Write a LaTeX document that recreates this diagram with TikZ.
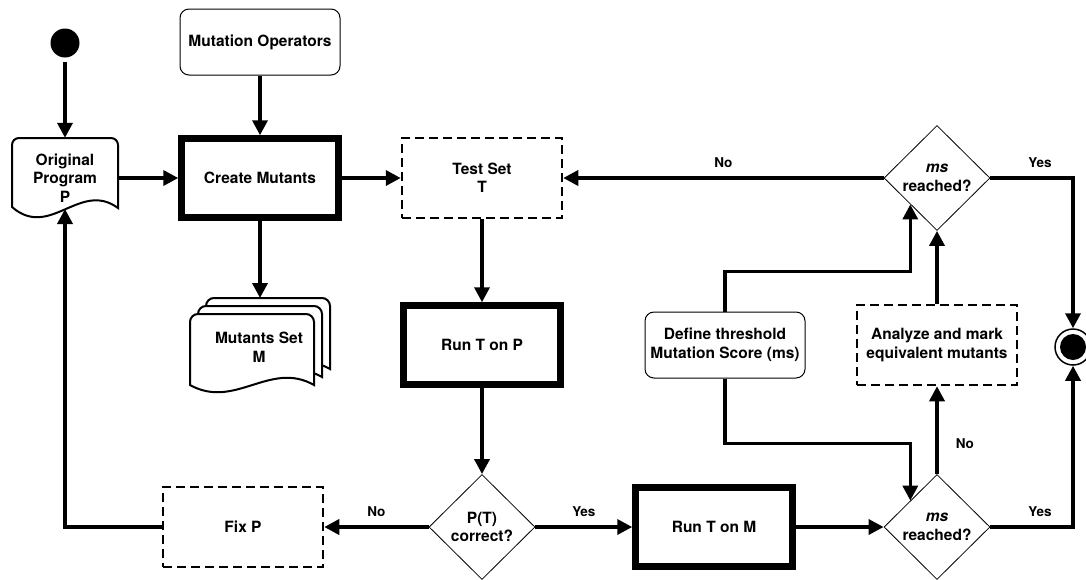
\documentclass[tikz,border=0pt]{standalone}
\usepackage{fontspec}
\setmainfont{TeX Gyre Heros}
\usetikzlibrary{arrows.meta,shapes.geometric}

\begin{document}
\begin{tikzpicture}[x=1pt, y=1pt, yscale=-1, inner sep=0pt,
    txt/.style={font=\bfseries\fontsize{15.5}{18.5}\selectfont, align=center},
    lbl/.style={font=\bfseries\fontsize{13.5}{16}\selectfont},
    thickbox/.style={txt, draw, line width=6.5pt, minimum width=157pt, minimum height=79pt},
    dashbox/.style={txt, draw, line width=2.5pt, dash pattern=on 9pt off 5pt, minimum width=160pt, minimum height=80pt},
    softbox/.style={txt, draw, line width=1pt, rounded corners=9pt, minimum width=160pt, minimum height=66pt},
    choice/.style={txt, draw, diamond, line width=0.8pt, minimum width=106pt, minimum height=105pt},
    flow/.style={line width=3.5pt, -{Triangle[length=15pt,width=15pt]}},
    docline/.style={line width=2pt, fill=white}]
  \useasboundingbox (0,0) rectangle (1086,579);

  % original program (document shape)
  \draw[docline] (12,207) [rounded corners=7pt] -- (12,138) -- (118,138) [sharp corners] -- (118,208)
    .. controls (80,180) and (50,240) .. (12,207) -- cycle;
  \node[txt, minimum width=106pt, minimum height=80pt] (orig) at (65,178) {Original\\Program\\P};
  \coordinate (origbot) at (65,209);

  % mutants set (stacked documents)
  \foreach \d in {16,8,0}
    \draw[docline, shift={(\d,-\d)}] (190,385) [rounded corners=8pt] -- (190,314) -- (314,314) [sharp corners] -- (314,385)
      .. controls (270,360) and (235,410) .. (190,385) -- cycle;
  \node[txt] (mset) at (259,347) {Mutants Set\\M};
  \coordinate (msettop) at (260,298);

  \node[circle, fill, minimum size=29pt] (start) at (65,43) {};
  \node[softbox] (mutop) at (260,42) {Mutation Operators};
  \node[thickbox] (create) at (260,178) {Create Mutants};
  \node[dashbox] (tests) at (482,178) {Test Set\\T};
  \node[thickbox] (runp) at (482,345) {Run T on P};
  \node[choice] (correct) at (482,527) {P(T)\\correct?};
  \node[dashbox] (fix) at (243,527) {Fix P};
  \node[thickbox] (runm) at (714,527) {Run T on M};
  \node[choice] (msm) at (937,527) {\textit{ms}\\reached?};
  \node[choice] (mst) at (937,178) {\textit{ms}\\reached?};
  \node[softbox] (thresh) at (725,345) {Define threshold\\Mutation Score (ms)};
  \node[dashbox] (equiv) at (937,345) {Analyze and mark\\equivalent mutants};
  \node[circle, draw, line width=1.5pt, minimum size=36pt] (stop) at (1073,347) {};
  \fill (stop.center) circle (13);

  % connectors
  \draw[flow, shorten <=4pt] (start) -- (orig);
  \draw[flow] (mutop) -- (create);
  \draw[flow] (orig) -- (create);
  \draw[flow] (create) -- (tests);
  \draw[flow] (create) -- (msettop);
  \draw[flow] (tests) -- (runp);
  \draw[flow] (runp) -- (correct);
  \draw[flow] (correct) -- node[lbl, above=9pt] {No} (fix);
  \draw[flow] (correct) -- node[lbl, above=9pt] {Yes} (runm);
  \draw[flow] (fix.west) -| (origbot);
  \draw[flow] (runm) -- (msm);
  \draw[flow] (msm) -- node[lbl, pos=0.35, right=17pt] {No} (equiv);
  \draw[flow] (equiv) -- (mst);
  \draw[flow] (mst) -- node[lbl, above=9pt] {No} (tests);
  \draw[flow] (mst.east) -| node[lbl, pos=0.3, above=9pt] {Yes} (stop.north);
  \draw[flow] (msm.east) -| node[lbl, pos=0.3, above=9pt] {Yes} (stop.south);
  \draw[flow] (thresh.north) -- ++(0,-40) -| (mst.south west);
  \draw[flow] (thresh.south) -- ++(0,65) -| (msm.north west);
\end{tikzpicture}
\end{document}
